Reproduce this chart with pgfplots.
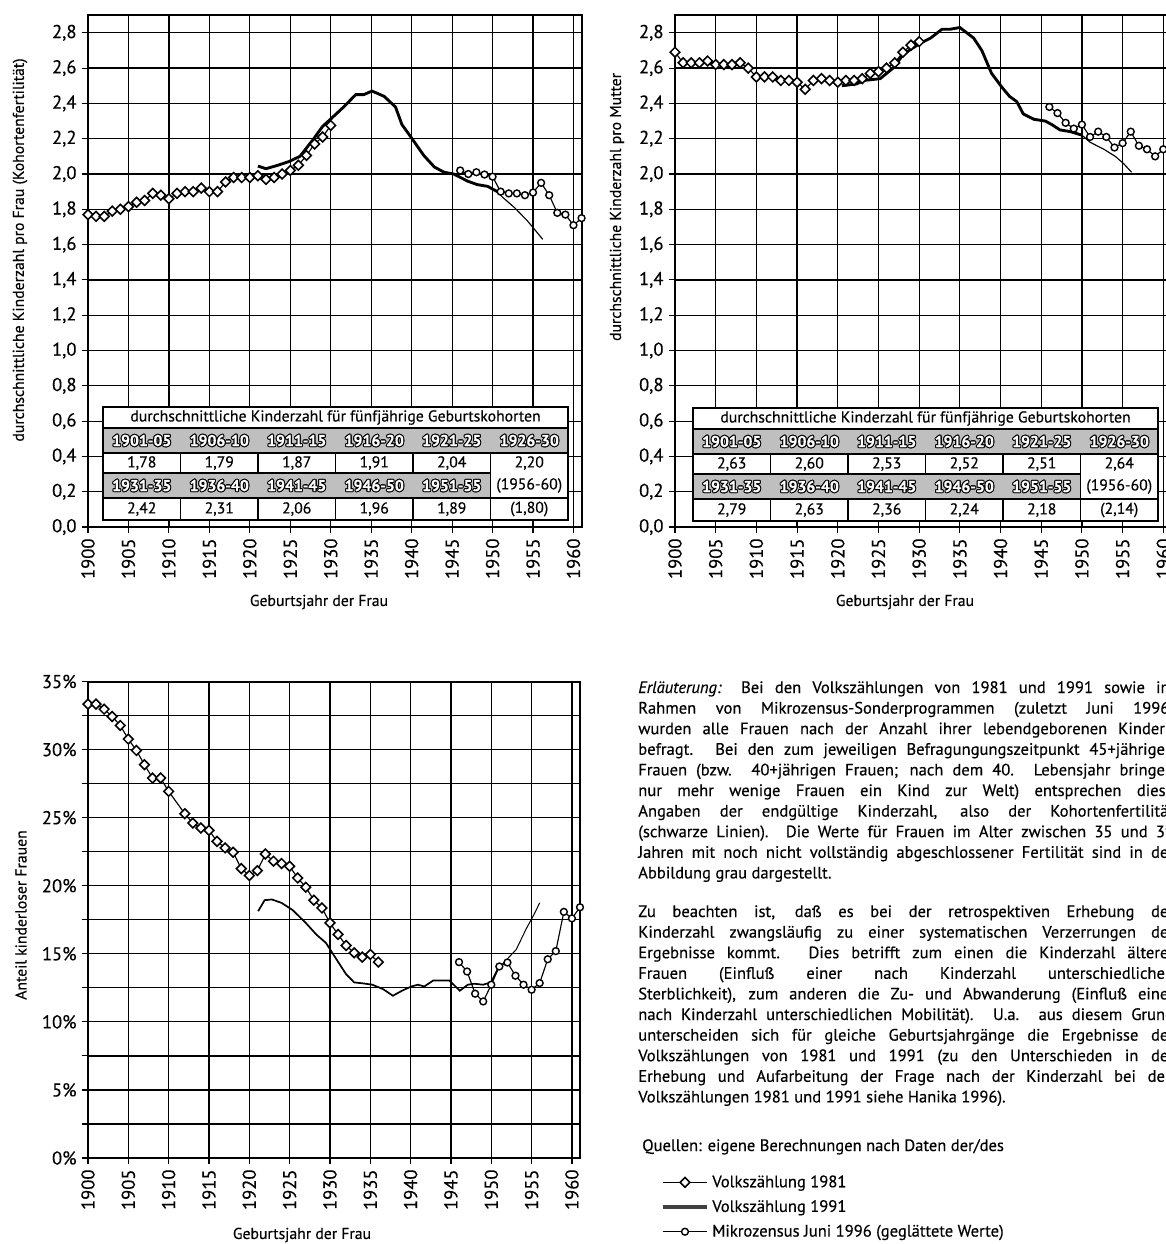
\documentclass[border=0pt]{standalone}
\usepackage{fontspec}
\setmainfont{PT Sans}[FakeBold=0.4]
\usepackage{pgfplots}
\pgfplotsset{compat=1.18}

\newcommand{\tickfont}{\fontsize{13}{14}\selectfont}
\newcommand{\labfont}{\fontsize{11}{12}\selectfont}
\newcommand{\tabfont}{\fontsize{11}{12}\selectfont}
\newcommand{\txtfont}{\fontsize{11.6}{12}\selectfont}
\newcommand{\hdrfont}{\fontsize{11}{12}\selectfont\bfseries}

\pgfplotsset{
  kurve/.style={
    scale only axis, anchor=south west, clip=false,
    xmin=1900, xmax=1961, xtick={1900,1905,...,1960},
    grid=major, grid style={black, line width=0.85pt},
    axis line style={line width=1.4pt},
    tick align=center, major tick length=9pt, minor tick length=9pt,
    tick style={black, line width=0.8pt},
    xtick pos=bottom, ytick pos=left,
    xticklabel style={rotate=90, anchor=east, font=\tickfont,
      /pgf/number format/.cd, 1000 sep={}, assume math mode=true},
  },
  komma/.style={
    ymin=0, ymax=2.9, ytick={0,0.2,0.4,0.6,0.8,1.0,1.2,1.4,1.6,1.8,2.0,2.2,2.4,2.6,2.8},
    yticklabel style={font=\tickfont,
      /pgf/number format/.cd, use comma, fixed, fixed zerofill, precision=1, assume math mode=true},
  },
  vz81/.style={black, line width=0.8pt, mark=square*, mark size=2.4pt,
    mark options={rotate=45, fill=white, line width=1.1pt, solid}},
  vz91/.style={black, line width=2pt, no markers},
  vz91grau/.style={black, line width=0.8pt, no markers},
  mz96/.style={black, line width=0.8pt, mark=*, mark size=2.4pt,
    mark options={fill=white, line width=1pt}},
}

% outlined header label
\newcommand{\hdr}[3]{%
  \foreach \dx/\dy in {-1.1/0,1.1/0,0/-1.1,0/1.1,-.8/-.8,.8/.8,-.8/.8,.8/-.8}
    {\node[font=\hdrfont, text=black, inner sep=0pt, shift={(\dx,\dy)}] at (#1,#2) {#3};}
  \node[font=\hdrfont, text=white, inner sep=0pt] at (#1,#2) {#3};}

% table of five-year cohorts: #1,#2 shift; #3 row 1 values; #4 row 2 values; #5 value 1956-60
\newcommand{\tabelle}[5]{%
\begin{scope}[shift={(#1,#2)}]
  \fill[white] (0,0) rectangle (465,113);
  \draw[line width=0.9pt] (0,0) rectangle (465,21);
  \node[font=\tabfont] at (232.5,10.5) {durchschnittliche Kinderzahl für fünfjährige Geburtskohorten};
  \draw[fill=black!25, line width=1.3pt] (0,21) rectangle (465,46);
  \draw[line width=0.9pt] (0,46) rectangle (465,113);
  \draw[line width=0.9pt] (387.5,46) -- (387.5,113);
  \foreach \i in {1,2,3,4} {\draw[line width=0.9pt] (77.5*\i,46) -- (77.5*\i,66);
                            \draw[line width=0.9pt] (77.5*\i,91) -- (77.5*\i,113);}
  \draw[fill=black!25, line width=1.3pt] (0,66) rectangle (387.5,91);
  \draw[line width=0.9pt] (387.5,91) -- (465,91);
  \foreach \t [count=\i from 0] in {1901-05,1906-10,1911-15,1916-20,1921-25,1926-30}
    {\hdr{38.75+77.5*\i}{33.5}{\t}}
  \foreach \t [count=\i from 0] in {1931-35,1936-40,1941-45,1946-50,1951-55}
    {\hdr{38.75+77.5*\i}{78.5}{\t}}
  \foreach \t [count=\i from 0] in {#3}
    {\node[font=\tabfont] at (38.75+77.5*\i,56) {\t};}
  \foreach \t [count=\i from 0] in {#4}
    {\node[font=\tabfont] at (38.75+77.5*\i,102) {\t};}
  \node[font=\tabfont] at (426.25,78.5) {(1956-60)};
  \node[font=\tabfont] at (426.25,102) {(#5)};
\end{scope}}

\newcommand{\zeile}[2]{\node[anchor=base west, inner sep=0pt, font=\txtfont] at (638,#1) {\makebox[375pt][s]{#2}};}
\newcommand{\letzte}[2]{\node[anchor=base west, inner sep=0pt, font=\txtfont] at (638,#1) {#2};}

\begin{document}
\begin{tikzpicture}
\useasboundingbox (0pt,0pt) rectangle (816.2pt,-870.8pt);
\clip (0pt,0pt) rectangle (816.2pt,-870.8pt);

% top left: Kinderzahl pro Frau
\begin{axis}[kurve, komma, at={(61.6pt,-368.9pt)}, width=345.5pt, height=358.3pt]
\addplot[vz91] coordinates {(1921,2.045)(1922,2.03)(1923.5,2.05)(1924.8,2.07)(1926.2,2.10)(1927.9,2.20)(1929,2.27)(1930.2,2.32)(1931.6,2.38)(1933.1,2.45)(1934.1,2.45)(1935.1,2.47)(1936.6,2.44)(1938,2.38)(1938.8,2.28)(1939.9,2.21)(1941.5,2.105)(1942.8,2.04)(1944,2.01)(1945.2,2.00)(1946.9,1.96)(1948.1,1.94)(1949.4,1.93)(1950.6,1.90)};
\addplot[vz91grau] coordinates {(1950.6,1.90)(1951.2,1.87)(1952.7,1.81)(1954.3,1.735)(1956.2,1.63)};
\addplot[vz81] coordinates {(1900,1.77)(1901,1.76)(1902,1.76)(1903,1.79)(1904,1.80)(1905,1.815)(1906,1.84)(1907,1.85)(1908,1.89)(1909,1.88)(1910,1.86)(1911,1.89)(1912,1.90)(1913,1.90)(1914,1.92)(1915,1.90)(1916,1.90)(1917,1.955)(1918,1.98)(1919,1.98)(1920,1.98)(1921,1.99)(1922,1.97)(1923,1.98)(1924,2.00)(1925,2.02)(1926,2.05)(1927,2.105)(1928,2.17)(1929,2.21)(1930,2.275)};
\addplot[mz96] coordinates {(1946,2.02)(1947,2.00)(1948,2.01)(1949,1.997)(1950,1.985)(1951,1.90)(1952,1.89)(1953,1.89)(1954,1.88)(1955,1.895)(1956,1.95)(1957,1.88)(1958,1.78)(1959,1.77)(1960,1.71)(1961,1.75)};
\end{axis}

% top right: Kinderzahl pro Mutter
\begin{axis}[kurve, komma, at={(472.5pt,-368.9pt)}, width=347.5pt, height=358.3pt]
\addplot[vz91] coordinates {(1920.5,2.50)(1922.3,2.51)(1923.2,2.53)(1925.2,2.54)(1926.8,2.60)(1928.1,2.68)(1930.1,2.74)(1931.4,2.77)(1932.8,2.82)(1933.8,2.82)(1935,2.83)(1936.7,2.77)(1937.7,2.70)(1938.9,2.57)(1940.2,2.49)(1941.1,2.44)(1942,2.41)(1942.8,2.34)(1944.1,2.31)(1945.5,2.30)(1946.3,2.28)(1947.3,2.25)(1948.6,2.24)(1950,2.22)};
\addplot[vz91grau] coordinates {(1950,2.22)(1951,2.18)(1952.7,2.14)(1954.1,2.10)(1955.1,2.06)(1956.1,2.01)};
\addplot[vz81] coordinates {(1900,2.69)(1901,2.63)(1902,2.63)(1903,2.63)(1904,2.64)(1905,2.62)(1906,2.62)(1907,2.62)(1908,2.63)(1909,2.60)(1910,2.55)(1911,2.55)(1912,2.55)(1913,2.53)(1914,2.53)(1915,2.52)(1916,2.48)(1917,2.53)(1918,2.54)(1919,2.53)(1920,2.52)(1921,2.53)(1922,2.53)(1923,2.54)(1924,2.57)(1925,2.58)(1926,2.60)(1927,2.63)(1928,2.69)(1929,2.73)(1930,2.75)};
\addplot[mz96] coordinates {(1946,2.38)(1947,2.345)(1948,2.29)(1949,2.257)(1950,2.28)(1951,2.21)(1952,2.24)(1953,2.21)(1954,2.15)(1955,2.175)(1956,2.24)(1957,2.16)(1958,2.14)(1959,2.10)(1960,2.14)};
\end{axis}

% bottom left: Anteil kinderloser Frauen
\begin{axis}[kurve, at={(61.6pt,-810.6pt)}, width=344.4pt, height=333.55pt,
  ymin=0, ymax=35, ytick={0,5,...,35}, minor ytick={2.5,7.5,...,32.5},
  grid=both, minor grid style={black, line width=0.85pt},
  yticklabel={\pgfmathprintnumber[fixed,precision=0,assume math mode=true]{\tick}\%},
  yticklabel style={font=\tickfont},
  legend style={at={(1.163,-0.03)}, anchor=north west, draw=none, fill=none,
    font=\txtfont, row sep=3.5pt, inner sep=0pt, cells={anchor=west}},
  legend image code/.code={\draw[mark repeat=2,mark phase=2,#1] plot coordinates {(0cm,0cm) (0.55cm,0cm) (1.1cm,0cm)};}]
\addplot[vz91, line width=1.2pt, forget plot] coordinates {(1921.1,18.13)(1921.9,18.94)(1922.8,18.99)(1924,18.74)(1925.4,18.2)(1927,17.27)(1928.3,16.42)(1929.5,15.8)(1930.8,14.6)(1932,13.5)(1933,12.9)(1934.2,12.82)(1935.25,12.73)(1936.6,12.4)(1937.8,11.92)(1939,12.31)(1940.1,12.6)(1940.9,12.73)(1941.7,12.6)(1942.8,13.04)(1944.8,13.04)(1946.1,12.29)(1947.1,12.73)(1947.9,12.8)(1949,12.73)(1950,12.92)(1950.8,13.87)};
\addplot[vz91grau, line width=0.7pt, forget plot] coordinates {(1950.8,13.87)(1953.1,15.32)(1954.3,16.8)(1955.4,18.0)(1956,18.74)};
\addplot[vz81, forget plot] coordinates {(1900,33.34)(1901,33.34)(1902,32.97)(1903,32.43)(1904,31.77)(1905,30.77)(1906,29.94)(1907,28.89)(1908,27.91)(1909,27.91)(1910,26.93)(1912,25.29)(1913,24.60)(1914,24.24)(1915,24.07)(1916,23.26)(1917,22.78)(1918,22.46)(1919,21.26)(1920,20.75)(1921,21.11)(1922,22.33)(1923,21.80)(1924,21.63)(1925,21.43)(1926,20.57)(1927,19.89)(1928,18.94)(1929,18.37)(1930,17.27)(1931,16.42)(1932,15.61)(1933,15.07)(1934,14.76)(1935,14.95)(1936,14.39)};
\addplot[mz96, forget plot] coordinates {(1946,14.39)(1947,13.70)(1948,12.07)(1949,11.50)(1950,12.73)(1951,14.07)(1952,14.36)(1953,13.39)(1954,12.73)(1955,12.36)(1956,12.85)(1957,14.6)(1958,15.2)(1959,18.08)(1960,17.6)(1961,18.42)};
\addlegendimage{vz81}\addlegendentry{Volkszählung 1981}
\addlegendimage{black!75, line width=3pt}\addlegendentry{Volkszählung 1991}
\addlegendimage{mz96}\addlegendentry{Mikrozensus Juni 1996 (geglättete Werte)}
\end{axis}

\begin{scope}[x=0.7pt, y=-0.7pt]
% axis titles
\node[rotate=90, font=\labfont] at (20,250) {durchschnittliche Kinderzahl pro Frau (Kohortenfertilität)};
\node[rotate=90, font=\labfont] at (617,207) {durchschnittliche Kinderzahl pro Mutter};
\node[rotate=90, font=\labfont] at (21,915) {Anteil kinderloser Frauen};
\node[font=\labfont] at (319,602) {Geburtsjahr der Frau};
\node[font=\labfont] at (905,602) {Geburtsjahr der Frau};
\node[font=\labfont] at (302,1235) {Geburtsjahr der Frau};

% tables
\tabelle{103}{407}{{1,78},{1,79},{1,87},{1,91},{2,04},{2,20}}{{2,42},{2,31},{2,06},{1,96},{1,89}}{1,80}
\tabelle{693}{408}{{2,63},{2,60},{2,53},{2,52},{2,51},{2,64}}{{2,79},{2,63},{2,36},{2,24},{2,18}}{2,14}

% explanation
\zeile{693}{\textit{Erläuterung:} Bei den Volkszählungen von 1981 und 1991 sowie im}
\zeile{713.6}{Rahmen von Mikrozensus-Sonderprogrammen (zuletzt Juni 1996)}
\zeile{734.2}{wurden alle Frauen nach der Anzahl ihrer lebendgeborenen Kindern}
\zeile{754.8}{befragt. Bei den zum jeweiligen Befragungungszeitpunkt 45+jährigen}
\zeile{775.4}{Frauen (bzw. 40+jährigen Frauen; nach dem 40. Lebensjahr bringen}
\zeile{796}{nur mehr wenige Frauen ein Kind zur Welt) entsprechen diese}
\zeile{816.6}{Angaben der endgültige Kinderzahl, also der Kohortenfertilität}
\zeile{837.2}{(schwarze Linien). Die Werte für Frauen im Alter zwischen 35 und 39}
\zeile{857.8}{Jahren mit noch nicht vollständig abgeschlossener Fertilität sind in der}
\letzte{878.4}{Abbildung grau dargestellt.}
\zeile{917}{Zu beachten ist, daß es bei der retrospektiven Erhebung der}
\zeile{937.6}{Kinderzahl zwangsläufig zu einer systematischen Verzerrungen der}
\zeile{958.2}{Ergebnisse kommt. Dies betrifft zum einen die Kinderzahl älterer}
\zeile{978.8}{Frauen (Einfluß einer nach Kinderzahl unterschiedlichen}
\zeile{999.4}{Sterblichkeit), zum anderen die Zu- und Abwanderung (Einfluß einer}
\zeile{1020}{nach Kinderzahl unterschiedlichen Mobilität). U.a. aus diesem Grund}
\zeile{1040.6}{unterscheiden sich für gleiche Geburtsjahrgänge die Ergebnisse der}
\zeile{1061.2}{Volkszählungen von 1981 und 1991 (zu den Unterschieden in der}
\zeile{1081.8}{Erhebung und Aufarbeitung der Frage nach der Kinderzahl bei den}
\letzte{1102.4}{Volkszählungen 1981 und 1991 siehe Hanika 1996).}
\node[anchor=base west, inner sep=0pt, font=\txtfont] at (642,1151) {Quellen: eigene Berechnungen nach Daten der/des};
\end{scope}
\end{tikzpicture}
\end{document}
